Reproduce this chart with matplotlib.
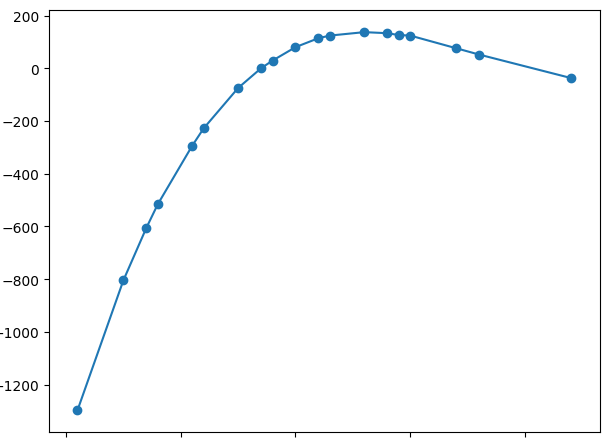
import matplotlib
matplotlib.use("Agg")
import matplotlib.pyplot as plt

x_values = [1, 5, 7, 8, 11, 12, 15, 17, 18, 20, 22, 23, 26, 28, 29, 30, 34, 36, 44]
y_values = [-1298, -805, -606, -516, -294, -228, -75, 0, 29, 80, 114, 124, 137, 133,
            126, 124, 76, 52, -37]
y_ticks = [-1200, -1000, -800, -600, -400, -200, 0, 200]
x_ticks = [0, 10, 20, 30, 40]

fig = plt.figure(figsize=(6.04, 4.39), dpi=100)
ax = fig.add_axes([49 / 604, 1 - 433 / 439, 551 / 604, 422 / 439])
ax.plot(x_values, y_values, marker='o', color='#1f77b4')
ax.set_xlim(-1.48, 46.54)
ax.set_ylim(-1380, 221)
ax.set_yticks(y_ticks)
ax.set_xticks(x_ticks)
# x tick labels fall below the visible area in the reference (image is cropped)
ax.tick_params(axis='x', labelbottom=False)
fig.savefig("out.png", dpi=100)
